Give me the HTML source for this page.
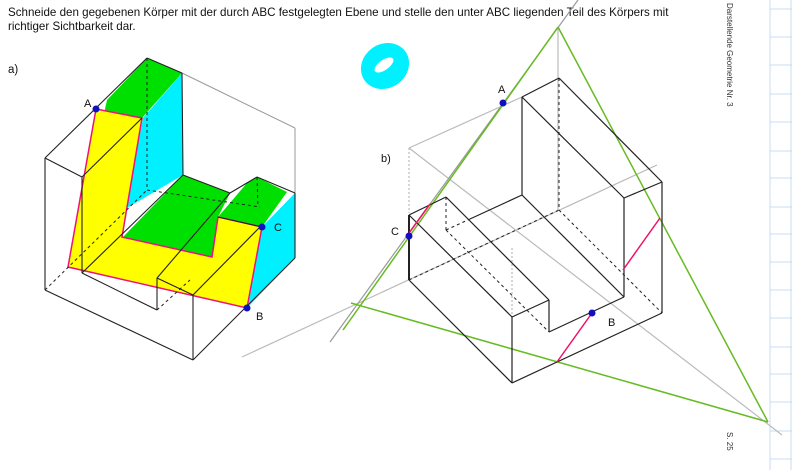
<!DOCTYPE html>
<html><head><meta charset="utf-8"><style>
html,body{margin:0;padding:0;background:#fff;}
svg{display:block;font-family:"Liberation Sans",sans-serif;}
</style></head><body>
<svg width="792" height="470" viewBox="0 0 792 470" xmlns="http://www.w3.org/2000/svg">
<g stroke="#c8dcf0" stroke-width="1">
<line x1="770" y1="0" x2="770" y2="470"/><line x1="791" y1="0" x2="791" y2="470"/>
<line x1="770" y1="9" x2="792" y2="9"/><line x1="770" y1="37" x2="792" y2="37"/><line x1="770" y1="65" x2="792" y2="65"/><line x1="770" y1="94" x2="792" y2="94"/><line x1="770" y1="122" x2="792" y2="122"/><line x1="770" y1="151" x2="792" y2="151"/><line x1="770" y1="178" x2="792" y2="178"/><line x1="770" y1="207" x2="792" y2="207"/><line x1="770" y1="234" x2="792" y2="234"/><line x1="770" y1="262" x2="792" y2="262"/><line x1="770" y1="290" x2="792" y2="290"/><line x1="770" y1="318" x2="792" y2="318"/><line x1="770" y1="347" x2="792" y2="347"/><line x1="770" y1="374" x2="792" y2="374"/><line x1="770" y1="402" x2="792" y2="402"/><line x1="770" y1="431" x2="792" y2="431"/><line x1="770" y1="459" x2="792" y2="459"/>
</g>
<text x="727" y="3" font-size="8" fill="#333" transform="rotate(90 727 3)">Darstellende Geometrie Nr. 3</text>
<text x="727" y="432" font-size="8" fill="#333" transform="rotate(90 727 432)">S. 25</text>

<text x="8" y="16" font-size="11.6" fill="#111">Schneide den gegebenen Körper mit der durch ABC festgelegten Ebene und stelle den unter ABC liegenden Teil des Körpers mit</text>
<text x="8" y="30" font-size="11.6" fill="#111">richtiger Sichtbarkeit dar.</text>
<text x="8" y="73" font-size="11.5" fill="#111">a)</text>

<g>
<polygon points="107,100 147,58 182,73 142,118 103,118" fill="#00e000"/>
<polygon points="143,118 182,73 183,175 127,208 120,237" fill="#00f0ff"/>
<polygon points="123,237 183,175 230,193 218,217 212,257" fill="#00e000"/>
<polygon points="218,217 247,183 257,177 287,192 262,227" fill="#00e000"/>
<polygon points="262,227 295,193 295,258 248,307" fill="#00f0ff"/>
<polygon points="96,109 142,118 122,237 212,257 218,217 262,227 247,308 68,267" fill="#ffff00" stroke="#ee1177" stroke-width="1.5"/>
<g stroke="#999" stroke-width="1" fill="none">
<line x1="182" y1="73" x2="295" y2="128"/><line x1="295" y1="128" x2="295" y2="193"/>
</g>
<g stroke="#222" stroke-width="1.1" fill="none">
<line x1="45" y1="158" x2="147" y2="58"/><line x1="147" y1="58" x2="182" y2="73"/><line x1="182" y1="73" x2="183" y2="175"/>
<line x1="45" y1="158" x2="82" y2="177"/><line x1="82" y1="177" x2="82" y2="273"/><line x1="82" y1="273" x2="157" y2="310"/>
<line x1="157" y1="310" x2="157" y2="278"/><line x1="157" y1="278" x2="193" y2="295"/><line x1="157" y1="278" x2="230" y2="193"/>
<line x1="82" y1="273" x2="183" y2="175"/><line x1="82" y1="177" x2="142" y2="118"/><line x1="193" y1="295" x2="260" y2="227"/>
<line x1="45" y1="158" x2="45" y2="290"/><line x1="45" y1="290" x2="193" y2="360"/><line x1="193" y1="295" x2="193" y2="360"/>
<line x1="193" y1="360" x2="295" y2="258"/><line x1="295" y1="193" x2="295" y2="258"/><line x1="257" y1="177" x2="295" y2="193"/>
<line x1="183" y1="175" x2="230" y2="193"/><line x1="230" y1="193" x2="257" y2="177"/><line x1="218" y1="217" x2="262" y2="227"/>
</g>
<g stroke="#222" stroke-width="1" stroke-dasharray="3,3" fill="none">
<line x1="147" y1="58" x2="147" y2="190"/><line x1="45" y1="290" x2="147" y2="190"/><line x1="147" y1="190" x2="260" y2="207"/>
<line x1="257" y1="177" x2="258" y2="207"/><line x1="157" y1="310" x2="190" y2="280"/>
</g>
<circle cx="96" cy="109" r="3.5" fill="#1010c0"/>
<circle cx="247" cy="308" r="3.5" fill="#1010c0"/>
<circle cx="262" cy="227" r="3.5" fill="#1010c0"/>
<text x="84" y="107" font-size="11" fill="#111">A</text>
<text x="256" y="320" font-size="11" fill="#111">B</text>
<text x="274" y="231" font-size="11" fill="#111">C</text>
</g>

<g>
<ellipse cx="385" cy="66" rx="25" ry="22" transform="rotate(-35 385 66)" fill="#00f0ff"/>
<ellipse cx="384" cy="65" rx="11" ry="5" transform="rotate(-35 384 65)" fill="#fff"/>
</g>

<g>
<g stroke="#bbb" stroke-width="1.2" fill="none">
<line x1="242" y1="357" x2="657" y2="165"/>
<line x1="409" y1="148" x2="782" y2="435"/>
<line x1="330" y1="342" x2="578" y2="0" stroke="#999"/>
<line x1="558" y1="28" x2="558" y2="210"/>
<line x1="409" y1="148" x2="522" y2="97"/>
<line x1="409" y1="148" x2="409" y2="213" stroke-dasharray="2,2"/>
<line x1="512" y1="248" x2="512" y2="317" stroke-dasharray="2,2"/>
</g>
<g stroke="#66bb22" stroke-width="1.5" fill="none">
<line x1="343" y1="330" x2="558" y2="27"/>
<line x1="558" y1="27" x2="768" y2="422"/>
<line x1="351" y1="303" x2="768" y2="422"/>
</g>
<g stroke="#222" stroke-width="1.2" fill="none">
<line x1="522" y1="97" x2="559" y2="78"/><line x1="559" y1="78" x2="662" y2="182"/><line x1="662" y1="182" x2="624" y2="198"/>
<line x1="522" y1="97" x2="624" y2="198"/><line x1="522" y1="97" x2="522" y2="195"/><line x1="624" y1="198" x2="624" y2="297"/>
<line x1="662" y1="182" x2="662" y2="313"/><line x1="522" y1="195" x2="624" y2="297"/><line x1="522" y1="195" x2="470" y2="219"/>
<line x1="409" y1="215" x2="446" y2="197"/><line x1="409" y1="215" x2="512" y2="317"/><line x1="446" y1="197" x2="549" y2="300"/>
<line x1="512" y1="317" x2="549" y2="300"/><line x1="549" y1="300" x2="549" y2="332"/><line x1="549" y1="332" x2="624" y2="297"/>
<line x1="409" y1="280" x2="512" y2="383"/><line x1="512" y1="317" x2="512" y2="383"/><line x1="512" y1="383" x2="662" y2="313"/>
<line x1="409" y1="215" x2="409" y2="280" stroke-width="2"/>
</g>
<g stroke="#222" stroke-width="1" stroke-dasharray="3,3" fill="none">
<line x1="559" y1="78" x2="559" y2="210"/><line x1="446" y1="197" x2="446" y2="230"/><line x1="446" y1="230" x2="549" y2="332"/>
<line x1="446" y1="230" x2="470" y2="219"/><line x1="409" y1="280" x2="559" y2="210"/><line x1="559" y1="210" x2="662" y2="313"/>
</g>
<g stroke="#ee1166" stroke-width="1.5">
<line x1="409" y1="233" x2="430" y2="204"/><line x1="623" y1="270" x2="660" y2="218"/><line x1="557" y1="362" x2="592" y2="313"/>
</g>
<circle cx="503" cy="103" r="3.5" fill="#1010c0"/>
<circle cx="409" cy="236" r="3.5" fill="#1010c0"/>
<circle cx="592" cy="313" r="3.5" fill="#1010c0"/>
<text x="498" y="93" font-size="11" fill="#111">A</text>
<text x="391" y="235" font-size="11" fill="#111">C</text>
<text x="608" y="326" font-size="11" fill="#111">B</text>
<text x="381" y="162" font-size="11" fill="#111">b)</text>
</g>
</svg>
</body></html>
